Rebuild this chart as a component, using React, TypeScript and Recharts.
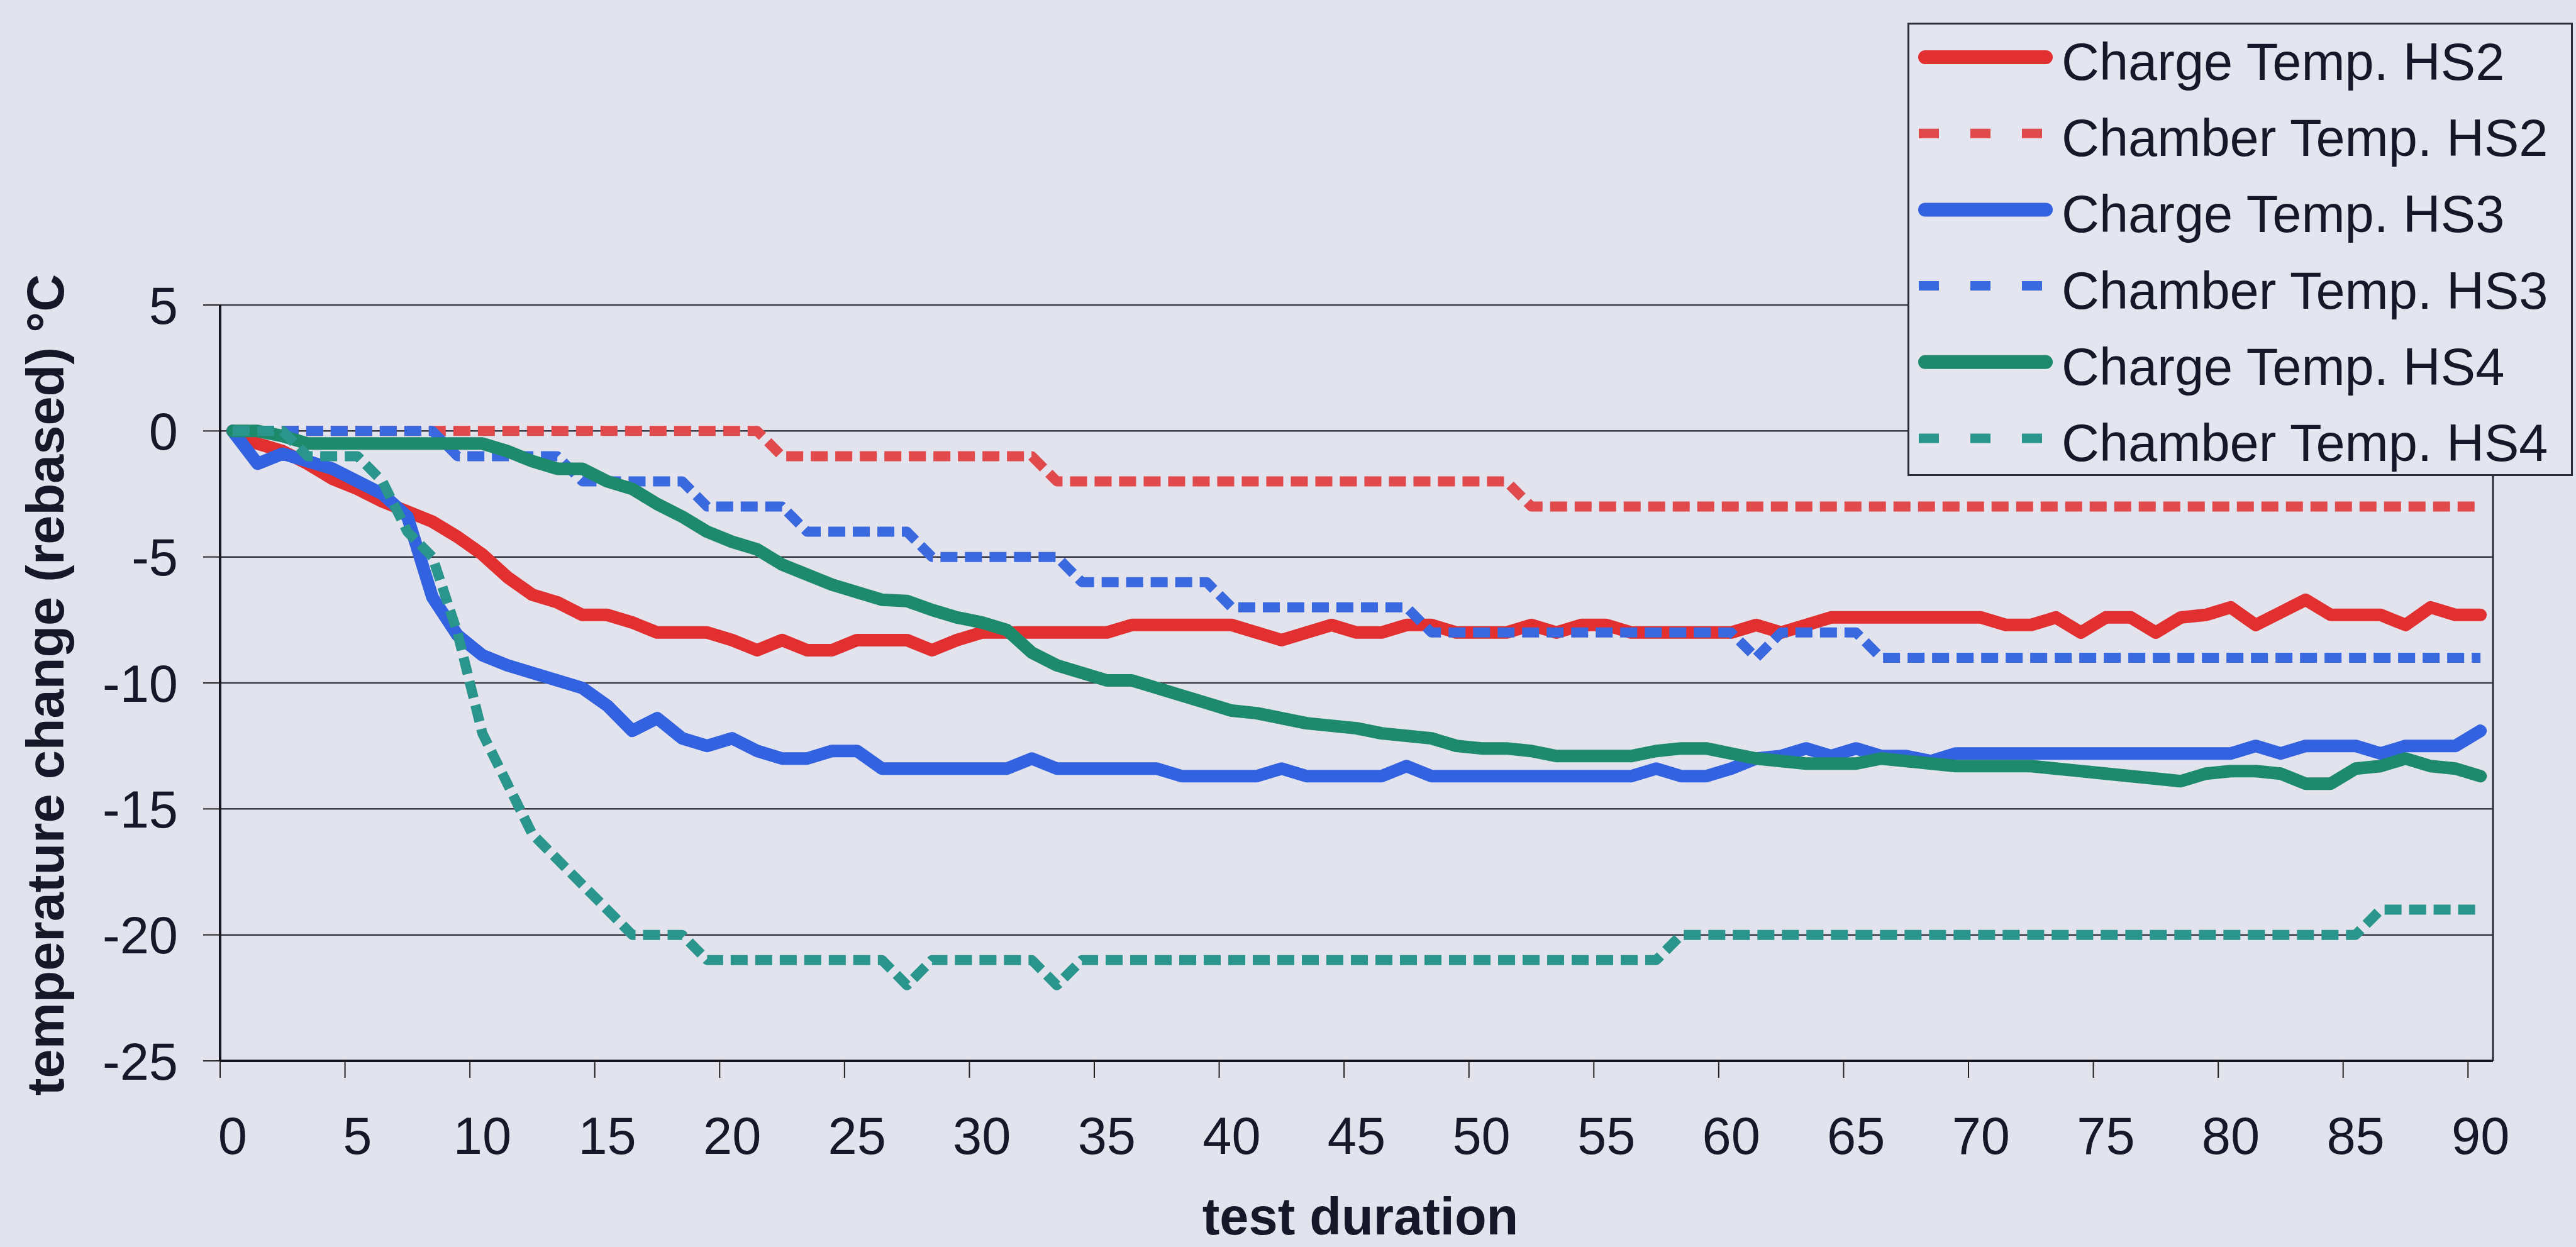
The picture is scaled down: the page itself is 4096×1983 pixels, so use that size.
import React from 'react';
import { LineChart, Line, XAxis, YAxis, CartesianGrid, Legend, Label, ReferenceLine } from 'recharts';

// ---- data (test duration in minutes, temperature change in °C) ----
const minutes = [
  0, 1, 2, 3, 4, 5, 6, 7, 8, 9, 10, 11, 12, 13, 14, 15, 16, 17, 18, 19,
  20, 21, 22, 23, 24, 25, 26, 27, 28, 29, 30, 31, 32, 33, 34, 35, 36, 37, 38, 39,
  40, 41, 42, 43, 44, 45, 46, 47, 48, 49, 50, 51, 52, 53, 54, 55, 56, 57, 58, 59,
  60, 61, 62, 63, 64, 65, 66, 67, 68, 69, 70, 71, 72, 73, 74, 75, 76, 77, 78, 79,
  80, 81, 82, 83, 84, 85, 86, 87, 88, 89, 90,
];

const chargeHS2 = [
  0, -0.5, -0.8, -1.3, -1.9, -2.3, -2.8, -3.2, -3.6, -4.2,
  -4.9, -5.8, -6.5, -6.8, -7.3, -7.3, -7.6, -8.0, -8.0, -8.0,
  -8.3, -8.7, -8.3, -8.7, -8.7, -8.3, -8.3, -8.3, -8.7, -8.3,
  -8.0, -8.0, -8.0, -8.0, -8.0, -8.0, -7.7, -7.7, -7.7, -7.7,
  -7.7, -8.0, -8.3, -8.0, -7.7, -8.0, -8.0, -7.7, -7.7, -8.0,
  -8.0, -8.0, -7.7, -8.0, -7.7, -7.7, -8.0, -8.0, -8.0, -8.0,
  -8.0, -7.7, -8.0, -7.7, -7.4, -7.4, -7.4, -7.4, -7.4, -7.4,
  -7.4, -7.7, -7.7, -7.4, -8.0, -7.4, -7.4, -8.0, -7.4, -7.3,
  -7.0, -7.7, -7.2, -6.7, -7.3, -7.3, -7.3, -7.7, -7.0, -7.3,
  -7.3,
];

const chamberHS2 = [
  0, 0, 0, 0, 0, 0, 0, 0, 0, 0,
  0, 0, 0, 0, 0, 0, 0, 0, 0, 0,
  0, 0, -1, -1, -1, -1, -1, -1, -1, -1,
  -1, -1, -1, -2, -2, -2, -2, -2, -2, -2,
  -2, -2, -2, -2, -2, -2, -2, -2, -2, -2,
  -2, -2, -3, -3, -3, -3, -3, -3, -3, -3,
  -3, -3, -3, -3, -3, -3, -3, -3, -3, -3,
  -3, -3, -3, -3, -3, -3, -3, -3, -3, -3,
  -3, -3, -3, -3, -3, -3, -3, -3, -3, -3,
  -3,
];

const chargeHS3 = [
  0, -1.3, -0.9, -1.2, -1.5, -2.0, -2.5, -3.4, -6.6, -8.1,
  -8.9, -9.3, -9.6, -9.9, -10.2, -10.9, -11.9, -11.4, -12.2, -12.5,
  -12.2, -12.7, -13.0, -13.0, -12.7, -12.7, -13.4, -13.4, -13.4, -13.4,
  -13.4, -13.4, -13.0, -13.4, -13.4, -13.4, -13.4, -13.4, -13.7, -13.7,
  -13.7, -13.7, -13.4, -13.7, -13.7, -13.7, -13.7, -13.3, -13.7, -13.7,
  -13.7, -13.7, -13.7, -13.7, -13.7, -13.7, -13.7, -13.4, -13.7, -13.7,
  -13.4, -13.0, -12.9, -12.6, -12.9, -12.6, -12.9, -12.9, -13.1, -12.8,
  -12.8, -12.8, -12.8, -12.8, -12.8, -12.8, -12.8, -12.8, -12.8, -12.8,
  -12.8, -12.5, -12.8, -12.5, -12.5, -12.5, -12.8, -12.5, -12.5, -12.5,
  -11.9,
];

const chamberHS3 = [
  0, 0, 0, 0, 0, 0, 0, 0, 0, -1,
  -1, -1, -1, -1, -2, -2, -2, -2, -2, -3,
  -3, -3, -3, -4, -4, -4, -4, -4, -5, -5,
  -5, -5, -5, -5, -6, -6, -6, -6, -6, -6,
  -7, -7, -7, -7, -7, -7, -7, -7, -8, -8,
  -8, -8, -8, -8, -8, -8, -8, -8, -8, -8,
  -8, -9, -8, -8, -8, -8, -9, -9, -9, -9,
  -9, -9, -9, -9, -9, -9, -9, -9, -9, -9,
  -9, -9, -9, -9, -9, -9, -9, -9, -9, -9,
  -9,
];

const chargeHS4 = [
  0, 0, -0.2, -0.5, -0.5, -0.5, -0.5, -0.5, -0.5, -0.5,
  -0.5, -0.8, -1.2, -1.5, -1.5, -2.0, -2.3, -2.9, -3.4, -4.0,
  -4.4, -4.7, -5.3, -5.7, -6.1, -6.4, -6.7, -6.75, -7.1, -7.4,
  -7.6, -7.9, -8.8, -9.3, -9.6, -9.9, -9.9, -10.2, -10.5, -10.8,
  -11.1, -11.2, -11.4, -11.6, -11.7, -11.8, -12.0, -12.1, -12.2, -12.5,
  -12.6, -12.6, -12.7, -12.9, -12.9, -12.9, -12.9, -12.7, -12.6, -12.6,
  -12.8, -13.0, -13.1, -13.2, -13.2, -13.2, -13.0, -13.1, -13.2, -13.3,
  -13.3, -13.3, -13.3, -13.4, -13.5, -13.6, -13.7, -13.8, -13.9, -13.6,
  -13.5, -13.5, -13.6, -14.0, -14.0, -13.4, -13.3, -13.0, -13.3, -13.4,
  -13.7,
];

const chamberHS4 = [
  0, 0, 0, -1, -1, -1, -2, -4, -5, -8,
  -12, -14, -16, -17, -18, -19, -20, -20, -20, -21,
  -21, -21, -21, -21, -21, -21, -21, -22, -21, -21,
  -21, -21, -21, -22, -21, -21, -21, -21, -21, -21,
  -21, -21, -21, -21, -21, -21, -21, -21, -21, -21,
  -21, -21, -21, -21, -21, -21, -21, -21, -20, -20,
  -20, -20, -20, -20, -20, -20, -20, -20, -20, -20,
  -20, -20, -20, -20, -20, -20, -20, -20, -20, -20,
  -20, -20, -20, -20, -20, -20, -19, -19, -19, -19,
  -19,
];

// axis ticks: tick marks sit on category boundaries, labels in the category centres
const xTickValues = [-0.5, 4.5, 9.5, 14.5, 19.5, 24.5, 29.5, 34.5, 39.5, 44.5, 49.5, 54.5, 59.5, 64.5, 69.5, 74.5, 79.5, 84.5, 89.5];
const xTickLabels = ['0', '5', '10', '15', '20', '25', '30', '35', '40', '45', '50', '55', '60', '65', '70', '75', '80', '85', '90'];
const yTicks = [-25, -20, -15, -10, -5, 0, 5];

const seriesKeys = ['chargeHS2', 'chamberHS2', 'chargeHS3', 'chamberHS3', 'chargeHS4', 'chamberHS4'];
const seriesNames = ['Charge Temp. HS2', 'Chamber Temp. HS2', 'Charge Temp. HS3', 'Chamber Temp. HS3', 'Charge Temp. HS4', 'Chamber Temp. HS4'];
const seriesColors = ['#E1302F', '#E04A4C', '#3262E0', '#3A68DE', '#1E8A6C', '#2A958C'];
const seriesDashed = [false, true, false, true, false, true];
const seriesValues = [chargeHS2, chamberHS2, chargeHS3, chamberHS3, chargeHS4, chamberHS4];

const data = minutes.map((m, i) => {
  const row: Record<string, number> = { t: m };
  seriesKeys.forEach((k, s) => {
    row[k] = seriesValues[s][i];
  });
  return row;
});

// ---- styling ----
const W = 4096;
const H = 1983;
const BG = '#E2E3EC';
const TXT = '#161829';
const FONT = '"Liberation Sans", Arial, Helvetica, sans-serif';
const FS = 83;
const PLOT_LEFT = 350;
const PLOT_RIGHT_MARGIN = 132;
const PLOT_TOP = 485;
const XAXIS_H = 296;
const HALF_BAND = (W - PLOT_LEFT - PLOT_RIGHT_MARGIN) / 91 / 2;

const XTick = (props: any) => {
  const { x, y, payload } = props;
  const idx = xTickValues.indexOf(payload.value);
  return (
    <text x={x + HALF_BAND} y={y} dy={FS * 0.716} textAnchor="middle" fontSize={FS} fontFamily={FONT} fill={TXT}>
      {idx >= 0 ? xTickLabels[idx] : ''}
    </text>
  );
};

const YTick = (props: any) => {
  const { x, y, payload } = props;
  return (
    <text x={x} y={y} dy={FS * 0.358} textAnchor="end" fontSize={FS} fontFamily={FONT} fill={TXT}>
      {payload.value}
    </text>
  );
};

const XTitle = (props: any) => {
  const vb = props.viewBox || { x: PLOT_LEFT, y: H - XAXIS_H, width: W - PLOT_LEFT - PLOT_RIGHT_MARGIN, height: XAXIS_H };
  return (
    <text x={vb.x + vb.width / 2 + 6} y={vb.y + 276} textAnchor="middle" fontSize={FS} fontWeight="bold" fontFamily={FONT} fill={TXT}>
      test duration
    </text>
  );
};

const YTitle = (props: any) => {
  const vb = props.viewBox || { x: 0, y: PLOT_TOP, width: PLOT_LEFT, height: H - XAXIS_H - PLOT_TOP };
  const cx = vb.x + 101;
  const cy = vb.y + vb.height / 2 + 3;
  return (
    <text x={cx} y={cy} transform={`rotate(-90 ${cx} ${cy})`} textAnchor="middle" fontSize={FS} fontWeight="bold" fontFamily={FONT} fill={TXT}>
      temperature change (rebased) °C
    </text>
  );
};

const LEG_W = 1058;
const LEG_H = 721;

const LegendBox = () => (
  <svg width={LEG_W} height={LEG_H} style={{ display: 'block' }}>
    <rect x={1.5} y={1.5} width={LEG_W - 3} height={LEG_H - 3} fill="#E4E5EE" stroke="#2a2c38" strokeWidth={3} />
    {seriesNames.map((name, i) => {
      const cy = 55 + i * 121.2;
      return (
        <g key={name}>
          {seriesDashed[i] ? (
            <line x1={18} x2={230} y1={cy} y2={cy} stroke={seriesColors[i]} strokeWidth={15} strokeDasharray="32 50" />
          ) : (
            <line x1={28} x2={220} y1={cy} y2={cy} stroke={seriesColors[i]} strokeWidth={22} strokeLinecap="round" />
          )}
          <text x={245} y={cy + 36} fontSize={FS} fontFamily={FONT} fill={TXT}>
            {name}
          </text>
        </g>
      );
    })}
  </svg>
);

export default function App() {
  return (
    <div style={{ position: 'absolute', left: 0, top: 0, width: W, height: H, background: BG, overflow: 'hidden' }}>
      <LineChart
        width={W}
        height={H}
        data={data}
        margin={{ top: PLOT_TOP, right: PLOT_RIGHT_MARGIN, bottom: 0, left: 0 }}
      >
        <CartesianGrid vertical={false} stroke="#3a3b45" strokeWidth={2.5} />
        <XAxis
          dataKey="t"
          type="number"
          domain={[-0.5, 90.5]}
          ticks={xTickValues}
          interval={0}
          allowDecimals
          height={XAXIS_H}
          tickSize={27}
          tickMargin={62}
          tick={<XTick />}
          tickLine={{ stroke: '#222', strokeWidth: 2 }}
          axisLine={{ stroke: '#15161f', strokeWidth: 4 }}
        >
          <Label content={<XTitle />} />
        </XAxis>
        <YAxis
          type="number"
          domain={[-25, 5]}
          ticks={yTicks}
          interval={0}
          width={PLOT_LEFT}
          tickSize={27}
          tickMargin={40}
          tick={<YTick />}
          tickLine={{ stroke: '#222', strokeWidth: 2 }}
          axisLine={{ stroke: '#15161f', strokeWidth: 4 }}
        >
          <Label content={<YTitle />} />
        </YAxis>
        <ReferenceLine x={90.5} stroke="#2a2c38" strokeWidth={3} />
        {seriesKeys.map((k, i) => (
          <Line
            key={k}
            dataKey={k}
            name={seriesNames[i]}
            type="linear"
            stroke={seriesColors[i]}
            strokeWidth={seriesDashed[i] ? 16 : 20}
            strokeDasharray={seriesDashed[i] ? '27 12' : undefined}
            strokeLinejoin="round"
            strokeLinecap={seriesDashed[i] ? 'butt' : 'round'}
            dot={false}
            activeDot={false}
            isAnimationActive={false}
          />
        ))}
        <Legend
          layout="horizontal"
          verticalAlign="middle"
          align="center"
          wrapperStyle={{ position: 'absolute', left: 3033, top: 36, width: LEG_W, height: LEG_H }}
          content={<LegendBox />}
        />
      </LineChart>
    </div>
  );
}
